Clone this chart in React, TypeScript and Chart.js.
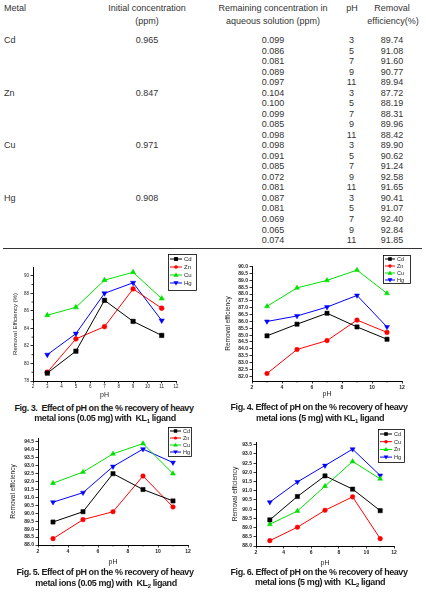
import React, { useEffect, useRef } from 'react';
import { Chart, registerables } from 'chart.js';

Chart.register(...registerables);

// ---------------- Table data ----------------
const TABLE_HEAD = ['Metal', 'Initial concentration', '(ppm)', 'Remaining concentration in', 'aqueous solution (ppm)', 'pH', 'Removal', 'efficiency(%)'];
const METALS = ['Cd', 'Zn', 'Cu', 'Hg'];
const INITIAL_CONC = [0.965, 0.847, 0.971, 0.908];
const REMAINING_CONC = [
  0.099, 0.086, 0.081, 0.089, 0.097,
  0.104, 0.100, 0.099, 0.085, 0.098,
  0.098, 0.091, 0.085, 0.072, 0.081,
  0.087, 0.081, 0.069, 0.065, 0.074,
];
const TABLE_PH = [3, 5, 7, 9, 11, 3, 5, 7, 9, 11, 3, 5, 7, 9, 11, 3, 5, 7, 9, 11];
const REMOVAL_EFF = [
  89.74, 91.08, 91.60, 90.77, 89.94,
  87.72, 88.19, 88.31, 89.96, 88.42,
  89.90, 90.62, 91.24, 92.58, 91.65,
  90.41, 91.07, 92.40, 92.84, 91.85,
];

// ---------------- Figure data ----------------
const PH = [3, 5, 7, 9, 11];

const FIG3_LABELS = ['Cd', 'Zn', 'Cu', 'Hg'];
const FIG3_CD = [78.9, 81.4, 87.2, 84.8, 83.2];
const FIG3_ZN = [79.0, 82.8, 84.2, 88.5, 86.3];
const FIG3_CU = [85.5, 86.4, 89.5, 90.4, 87.4];
const FIG3_HG = [81.0, 83.4, 88.0, 89.2, 84.9];

const FIG4_LABELS = ['Cd', 'Zn', 'Cu', 'Hg'];
const FIG4_CD = [84.95, 85.8, 86.6, 85.6, 84.7];
const FIG4_ZN = [82.2, 83.95, 84.6, 86.1, 85.2];
const FIG4_CU = [87.1, 88.45, 89.0, 89.75, 88.05];
const FIG4_HG = [86.0, 86.4, 87.05, 87.9, 85.6];

const FIG5_LABELS = ['Cd', 'Zn', 'Cu', 'Hg'];
const FIG5_CD = [89.45, 90.1, 92.5, 91.5, 90.78];
const FIG5_ZN = [88.4, 89.6, 90.1, 92.35, 90.4];
const FIG5_CU = [91.9, 92.6, 93.75, 94.4, 92.5];
const FIG5_HG = [90.7, 91.3, 92.95, 94.05, 93.2];

const FIG6_LABELS = ['Cd', 'Cu', 'Zn', 'Hg'];
const FIG6_CD = [89.42, 90.69, 91.81, 91.09, 89.92];
const FIG6_CU = [88.29, 89.02, 89.94, 90.67, 88.4];
const FIG6_ZN = [89.18, 89.9, 91.25, 92.59, 91.65];
const FIG6_HG = [90.38, 91.48, 92.37, 93.26, 91.83];

const FIG3_X_TICKS = [2, 3, 4, 5, 6, 7, 8, 9, 10, 11, 12];
const X_TICKS = [2, 4, 6, 8, 10, 12];
const X_MINOR = [3, 5, 7, 9, 11];
const FIG3_Y_TICKS = [78, 80, 82, 84, 86, 88, 90];
const FIG3_Y_MINOR = [79, 81, 83, 85, 87, 89];
const FIG4_Y_TICKS = [82.0, 82.5, 83.0, 83.5, 84.0, 84.5, 85.0, 85.5, 86.0, 86.5, 87.0, 87.5, 88.0, 88.5, 89.0, 89.5, 90.0];
const FIG5_Y_TICKS = [88.0, 88.5, 89.0, 89.5, 90.0, 90.5, 91.0, 91.5, 92.0, 92.5, 93.0, 93.5, 94.0, 94.5];
const FIG6_Y_TICKS = [88.0, 88.5, 89.0, 89.5, 90.0, 90.5, 91.0, 91.5, 92.0, 92.5, 93.0, 93.5];

const CAPTIONS = [
  ['Fig. 3.  Effect of pH on the % recovery of heavy', 'metal ions (0.05 mg) with  KL', '1', ' ligand'],
  ['Fig. 4. Effect of pH on the % recovery of heavy', 'metal ions (5 mg) with KL', '1', ' ligand'],
  ['Fig. 5. Effect of pH on the % recovery of heavy', 'metal ions (0.05 mg) with  KL', '2', ' ligand'],
  ['Fig. 6. Effect of pH on the % recovery of heavy', 'metal ions (5 mg) with  KL', '2', ' ligand'],
];

// ---------------- Styles ----------------
const FONT = '"Liberation Sans", Arial, Helvetica, sans-serif';
const TXT = '#222';
const COLORS = ['#000000', '#ff0000', '#00e000', '#0000ff'];
const MARKERS = ['rect', 'circle', 'triangle', 'triangle'];
const ROTS = [0, 0, 0, 180];
const RADII = [3, 2.3, 2.9, 2.9];

function drawMarker(ctx: CanvasRenderingContext2D, i: number, x: number, y: number, r: number, color: string) {
  ctx.fillStyle = color;
  ctx.beginPath();
  if (i === 0) {
    const s = r * 0.75;
    ctx.rect(x - s, y - s, 2 * s, 2 * s);
  } else if (i === 1) {
    ctx.arc(x, y, r * 0.7, 0, Math.PI * 2);
  } else if (i === 2) {
    ctx.moveTo(x, y - r);
    ctx.lineTo(x + r, y + r * 0.7);
    ctx.lineTo(x - r, y + r * 0.7);
    ctx.closePath();
  } else {
    ctx.moveTo(x, y + r);
    ctx.lineTo(x + r, y - r * 0.7);
    ctx.lineTo(x - r, y - r * 0.7);
    ctx.closePath();
  }
  ctx.fill();
}

const paperLegend = {
  id: 'paperLegend',
  afterDraw(chart: any, _a: any, o: any) {
    if (!o || o.x === undefined) return;
    const ctx = chart.ctx as CanvasRenderingContext2D;
    ctx.save();
    ctx.lineWidth = 0.8;
    ctx.strokeStyle = '#000';
    ctx.strokeRect(o.x + 0.5, o.y + 0.5, o.w, o.h);
    ctx.font = `${o.size}px ${FONT}`;
    ctx.textBaseline = 'middle';
    ctx.textAlign = 'left';
    chart.data.datasets.forEach((ds: any, i: number) => {
      const cy = o.firstY + i * o.rowH;
      ctx.strokeStyle = ds.borderColor;
      ctx.lineWidth = 1;
      ctx.beginPath();
      ctx.moveTo(o.lx0, cy);
      ctx.lineTo(o.lx1, cy);
      ctx.stroke();
      drawMarker(ctx, i, (o.lx0 + o.lx1) / 2, cy, o.mr, ds.borderColor);
      ctx.fillStyle = TXT;
      ctx.fillText(ds.label, o.tx, cy + 0.5);
    });
    ctx.restore();
  },
};

const minorTicks = {
  id: 'minorTicks',
  afterDraw(chart: any, _a: any, o: any) {
    if (!o) return;
    const ctx = chart.ctx as CanvasRenderingContext2D;
    const xs = chart.scales.x;
    const ys = chart.scales.y;
    ctx.save();
    ctx.strokeStyle = '#000';
    ctx.lineWidth = 0.8;
    ctx.beginPath();
    (o.x || []).forEach((v: number) => {
      const px = xs.getPixelForValue(v);
      ctx.moveTo(px, xs.top);
      ctx.lineTo(px, xs.top + o.len);
    });
    (o.y || []).forEach((v: number) => {
      const py = ys.getPixelForValue(v);
      ctx.moveTo(ys.right, py);
      ctx.lineTo(ys.right - o.len, py);
    });
    ctx.stroke();
    ctx.restore();
  },
};

type Spec = {
  left: number; top: number; w: number; h: number;
  yW: number; xH: number; padTop: number; padRight: number;
  yMin: number; yMax: number; yTicks: number[]; yMinor: number[];
  xTicks: number[]; xMinor: number[]; yDecimals: number;
  yTitle: string; yTitlePad: number; xTitlePad: number;
  tickSize: number; tickWeight: string; yTitleSize: number; xTitleSize: number;
  labels: string[]; series: number[][]; mScale: number;
  legend: any;
};

function buildConfig(s: Spec): any {
  const font = { family: FONT, size: s.tickSize, weight: s.tickWeight };
  const grid = { display: true, drawOnChartArea: false, drawTicks: true, tickLength: 2.5, color: '#000', lineWidth: 0.8 };
  const border = { display: true, color: '#000', width: 1 };
  return {
    type: 'line',
    data: {
      datasets: s.series.map((vals, i) => ({
        label: s.labels[i],
        data: PH.map((x, j) => ({ x, y: vals[j] })),
        borderColor: COLORS[i],
        backgroundColor: COLORS[i],
        borderWidth: 1,
        pointStyle: MARKERS[i],
        pointRotation: ROTS[i],
        pointRadius: RADII[i] * s.mScale,
        pointBorderWidth: 0.5,
        tension: 0,
        fill: false,
      })),
    },
    options: {
      responsive: false,
      animation: false,
      events: [],
      layout: { padding: { top: s.padTop, right: s.padRight, left: 0, bottom: 0 } },
      plugins: {
        legend: { display: false },
        tooltip: { enabled: false },
        paperLegend: s.legend,
        minorTicks: { x: s.xMinor, y: s.yMinor, len: 1.5 },
      },
      scales: {
        x: {
          type: 'linear', min: 2, max: 12,
          afterBuildTicks: (sc: any) => { sc.ticks = s.xTicks.map((v) => ({ value: v })); },
          afterFit: (sc: any) => { sc.height = s.xH; },
          ticks: { font, color: TXT, padding: 1, maxRotation: 0, autoSkip: false, callback: (v: any) => String(v) },
          grid, border,
          title: { display: true, text: 'pH', color: TXT, font: { family: FONT, size: s.xTitleSize }, padding: { top: 0, bottom: s.xTitlePad } },
        },
        y: {
          type: 'linear', min: s.yMin, max: s.yMax,
          afterBuildTicks: (sc: any) => { sc.ticks = s.yTicks.map((v) => ({ value: v })); },
          afterFit: (sc: any) => { sc.width = s.yW; },
          ticks: { font, color: TXT, padding: 1.5, autoSkip: false, callback: (v: any) => Number(v).toFixed(s.yDecimals) },
          grid, border,
          title: { display: true, text: s.yTitle, color: TXT, font: { family: FONT, size: s.yTitleSize }, padding: { top: s.yTitlePad, bottom: 0 } },
        },
      },
    },
    plugins: [paperLegend, minorTicks],
  };
}

function Fig({ spec }: { spec: Spec }) {
  const ref = useRef<HTMLCanvasElement | null>(null);
  useEffect(() => {
    const chart = new Chart(ref.current as HTMLCanvasElement, buildConfig(spec));
    return () => chart.destroy();
  }, []);
  return (
    <canvas
      ref={ref}
      width={spec.w}
      height={spec.h}
      style={{ position: 'absolute', left: spec.left, top: spec.top, width: spec.w, height: spec.h }}
    />
  );
}

const SPECS: Spec[] = [
  {
    left: 0, top: 248, w: 213, h: 152, yW: 33, xH: 19, padTop: 19, padRight: 37,
    yMin: 78, yMax: 91, yTicks: FIG3_Y_TICKS, yMinor: FIG3_Y_MINOR, xTicks: FIG3_X_TICKS, xMinor: [], yDecimals: 0,
    yTitle: 'Removal Efficiency (%)', yTitlePad: 12, xTitlePad: 0.5,
    tickSize: 4.5, tickWeight: 'normal', yTitleSize: 6, xTitleSize: 7,
    labels: FIG3_LABELS, series: [FIG3_CD, FIG3_ZN, FIG3_CU, FIG3_HG], mScale: 1.05,
    legend: { x: 168, y: 6, w: 28, h: 36, firstY: 11, rowH: 8, lx0: 170, lx1: 182, tx: 184, size: 6, mr: 2.6 },
  },
  {
    left: 213, top: 248, w: 213, h: 152, yW: 39, xH: 19, padTop: 18, padRight: 24,
    yMin: 81.65, yMax: 90.05, yTicks: FIG4_Y_TICKS, yMinor: [], xTicks: X_TICKS, xMinor: X_MINOR, yDecimals: 1,
    yTitle: 'Removal efficiency', yTitlePad: 11, xTitlePad: 1.5,
    tickSize: 5, tickWeight: 'bold', yTitleSize: 6.5, xTitleSize: 7,
    labels: FIG4_LABELS, series: [FIG4_CD, FIG4_ZN, FIG4_CU, FIG4_HG], mScale: 1,
    legend: { x: 170, y: 7, w: 27, h: 28, firstY: 11, rowH: 7, lx0: 172, lx1: 182, tx: 184, size: 5.5, mr: 2.4 },
  },
  {
    left: 0, top: 420, w: 213, h: 148, yW: 38, xH: 23, padTop: 18, padRight: 25,
    yMin: 88.0, yMax: 94.75, yTicks: FIG5_Y_TICKS, yMinor: [], xTicks: X_TICKS, xMinor: X_MINOR, yDecimals: 1,
    yTitle: 'Removal efficiency', yTitlePad: 9.5, xTitlePad: 1.8,
    tickSize: 5, tickWeight: 'bold', yTitleSize: 6.5, xTitleSize: 7,
    labels: FIG5_LABELS, series: [FIG5_CD, FIG5_ZN, FIG5_CU, FIG5_HG], mScale: 1,
    legend: { x: 168, y: 7, w: 23, h: 29, firstY: 11, rowH: 7, lx0: 170, lx1: 181, tx: 183, size: 5.5, mr: 2.3 },
  },
  {
    left: 213, top: 420, w: 213, h: 148, yW: 43, xH: 22, padTop: 22, padRight: 32,
    yMin: 88.0, yMax: 93.65, yTicks: FIG6_Y_TICKS, yMinor: [], xTicks: X_TICKS, xMinor: X_MINOR, yDecimals: 1,
    yTitle: 'Removal efficiency', yTitlePad: 18, xTitlePad: 0.8,
    tickSize: 5, tickWeight: 'bold', yTitleSize: 6.5, xTitleSize: 7,
    labels: FIG6_LABELS, series: [FIG6_CD, FIG6_CU, FIG6_ZN, FIG6_HG], mScale: 1,
    legend: { x: 165, y: 9, w: 26, h: 33, firstY: 14, rowH: 7.7, lx0: 167, lx1: 179, tx: 181, size: 5.5, mr: 2.4 },
  },
];

const CAPTION_POS = [
  { x: 104, y1: 408, y2: 418 },
  { x: 319, y1: 407, y2: 418 },
  { x: 105, y1: 572, y2: 583 },
  { x: 319, y1: 572, y2: 582 },
];

function Txt({ x, y, align = 'center', size = 9, bold = false, spacing = 0, color = '#333', children }: any) {
  const tx = align === 'center' ? '-50%' : align === 'right' ? '-100%' : '0';
  return (
    <div
      style={{
        position: 'absolute', left: x, top: y, transform: `translate(${tx}, -50%)`,
        fontSize: size, lineHeight: 1, whiteSpace: 'pre', fontWeight: bold ? 'bold' : 'normal',
        letterSpacing: spacing, color, fontFamily: FONT,
      }}
    >
      {children}
    </div>
  );
}

export default function App() {
  const ROW0 = 40;
  const ROWH = 10.53;
  return (
    <div style={{ position: 'absolute', left: 0, top: 0, width: 426, height: 594, background: '#fff', overflow: 'hidden', fontFamily: FONT }}>
      {/* table header */}
      <Txt x={4} y={8} align="left">{TABLE_HEAD[0]}</Txt>
      <Txt x={147} y={8}>{TABLE_HEAD[1]}</Txt>
      <Txt x={147} y={20.5}>{TABLE_HEAD[2]}</Txt>
      <Txt x={273} y={8}>{TABLE_HEAD[3]}</Txt>
      <Txt x={273} y={20.5}>{TABLE_HEAD[4]}</Txt>
      <Txt x={352} y={8}>{TABLE_HEAD[5]}</Txt>
      <Txt x={392} y={8}>{TABLE_HEAD[6]}</Txt>
      <Txt x={393} y={20.5}>{TABLE_HEAD[7]}</Txt>
      {/* table rows */}
      {METALS.map((m, k) => (
        <React.Fragment key={m}>
          <Txt x={4} y={ROW0 + k * 5 * ROWH} align="left">{m}</Txt>
          <Txt x={147} y={ROW0 + k * 5 * ROWH}>{INITIAL_CONC[k].toFixed(3)}</Txt>
        </React.Fragment>
      ))}
      {REMAINING_CONC.map((c, i) => (
        <React.Fragment key={i}>
          <Txt x={273} y={ROW0 + i * ROWH}>{c.toFixed(3)}</Txt>
          <Txt x={351.5} y={ROW0 + i * ROWH}>{String(TABLE_PH[i])}</Txt>
          <Txt x={392} y={ROW0 + i * ROWH}>{REMOVAL_EFF[i].toFixed(2)}</Txt>
        </React.Fragment>
      ))}
      <div style={{ position: 'absolute', left: 3, top: 247.5, width: 419, height: 1, background: '#333' }} />
      {/* figures */}
      {SPECS.map((s, i) => <Fig key={i} spec={s} />)}
      {/* captions */}
      {CAPTIONS.map((c, i) => (
        <React.Fragment key={'c' + i}>
          <Txt x={CAPTION_POS[i].x} y={CAPTION_POS[i].y1} size={9} bold spacing={-0.45} color="#1a1a1a">{c[0]}</Txt>
          <Txt x={CAPTION_POS[i].x + 1} y={CAPTION_POS[i].y2} size={9} bold spacing={-0.4} color="#1a1a1a">
            {c[1]}
            <span style={{ fontSize: 6, position: 'relative', top: 2 }}>{c[2]}</span>
            {c[3]}
          </Txt>
        </React.Fragment>
      ))}
    </div>
  );
}
